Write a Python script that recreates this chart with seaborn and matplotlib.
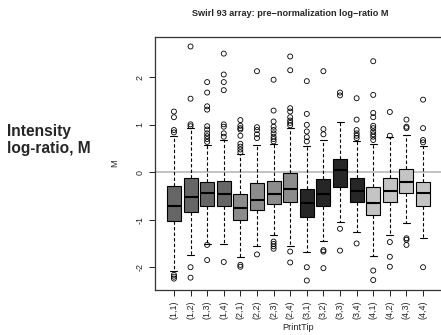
import pandas as pd
import matplotlib.pyplot as plt
import seaborn as sns

# print-tip groups
tips = ["(1,1)", "(1,2)", "(1,3)", "(1,4)", "(2,1)", "(2,2)", "(2,3)", "(2,4)",
        "(3,1)", "(3,2)", "(3,3)", "(3,4)", "(4,1)", "(4,2)", "(4,3)", "(4,4)"]
# box stats
q1 = [-1.02, -0.83, -0.72, -0.72, -1.00, -0.79, -0.67, -0.63,
      -0.95, -0.71, -0.30, -0.62, -0.91, -0.63, -0.44, -0.71]
med = [-0.71, -0.52, -0.44, -0.46, -0.76, -0.58, -0.46, -0.36,
       -0.64, -0.46, 0.04, -0.39, -0.64, -0.40, -0.20, -0.44]
q3 = [-0.29, -0.11, -0.20, -0.18, -0.46, -0.23, -0.18, -0.02,
      -0.35, -0.15, 0.29, -0.11, -0.30, -0.11, 0.07, -0.20]
wlo = [-2.09, -1.75, -1.51, -1.52, -1.79, -1.55, -1.32, -1.55,
       -1.68, -1.44, -1.05, -1.26, -1.76, -1.33, -1.07, -1.38]
whi = [0.77, 0.93, 0.58, 0.68, 0.38, 0.58, 0.59, 0.93,
       0.56, 0.68, 1.05, 0.65, 0.60, 0.74, 0.79, 0.56]
out_lo = [[-2.16, -2.20, -2.24], [-2.00, -2.22], [-1.53, -1.85], [-1.89],
          [-1.95, -1.99], [-1.73], [-1.46, -1.51, -1.56, -1.61], [-1.67, -1.90],
          [-2.00, -2.28], [-1.64, -1.67, -2.02], [-1.19, -1.65], [-1.50],
          [-2.07, -2.27], [-1.47, -1.78, -1.99], [-1.39, -1.42, -1.53], [-2.00]]
out_hi = [[0.84, 0.89, 1.16, 1.28], [0.97, 1.01, 1.55, 2.65],
          [0.64, 0.70, 0.76, 0.82, 0.90, 0.97, 1.32, 1.39, 1.68, 1.90],
          [0.75, 0.82, 0.96, 1.01, 1.73, 1.90, 2.06, 2.50],
          [0.42, 0.48, 0.54, 0.60, 0.77, 0.90, 0.93, 0.98, 1.10],
          [0.72, 0.80, 0.89, 0.95, 2.13],
          [0.65, 0.70, 0.75, 0.82, 0.89, 0.96, 1.07, 1.30, 1.95],
          [0.99, 1.04, 1.09, 1.16, 1.28, 1.35, 2.15, 2.44],
          [0.65, 0.74, 0.86, 1.00, 1.23, 1.92], [0.80, 0.91, 2.13],
          [1.62, 1.68], [0.72, 0.77, 0.82, 0.89, 1.11, 1.56],
          [0.68, 0.75, 0.80, 0.86, 0.93, 0.98, 1.16, 1.25, 1.63, 2.34],
          [0.77, 1.27], [0.93, 0.96, 1.11], [0.63, 0.68, 0.93, 1.53]]
colors = ["#666666"] * 4 + ["#8c8c8c"] * 4 + ["#262626"] * 4 + ["#c4c4c4"] * 4

sns.set_style("ticks")
plt.rcParams["font.family"] = ["Liberation Sans", "DejaVu Sans"]

# five numbers per tip -> box with whiskers at min / max
rows = []
for i, t in enumerate(tips):
    for v in (wlo[i], q1[i], med[i], q3[i], whi[i]):
        rows.append((t, v))
box_df = pd.DataFrame(rows, columns=["PrintTip", "M"])
out_df = pd.DataFrame([(t, v) for i, t in enumerate(tips) for v in out_lo[i] + out_hi[i]],
                      columns=["PrintTip", "M"])

fig = plt.figure(figsize=(4.41, 3.35), dpi=100)
ax = fig.add_axes([155 / 441, 45 / 335, 1 - 155 / 441, 253 / 335])

ax.axhline(0, color="#bdbdbd", lw=1.3, zorder=0)
sns.boxplot(data=box_df, x="PrintTip", y="M", hue="PrintTip", order=tips,
            palette=dict(zip(tips, colors)), saturation=1, whis=(0, 100),
            width=0.84, showfliers=False, linecolor="black", linewidth=0.8,
            legend=False, whiskerprops=dict(linestyle=(0, (3, 2))),
            medianprops=dict(linewidth=1.5), ax=ax)
sns.stripplot(data=out_df, x="PrintTip", y="M", order=tips, jitter=False,
              color="black", facecolor="none", edgecolor="black",
              linewidth=0.6, size=3.6, ax=ax, zorder=5)

ax.set_xlim(-1.14, 16.08)
ax.set_ylim(-2.48, 2.85)
ax.set_yticks([-2, -1, 0, 1, 2])
ax.set_yticklabels(["-2", "-1", "0", "1", "2"], rotation=90, va="center")
ax.set_xticks(range(len(tips)))
ax.set_xticklabels(tips, rotation=90)
ax.tick_params(labelsize=6.4, length=4, width=0.7, colors="#222222")
ax.spines["right"].set_visible(False)
for s in ("left", "bottom", "top"):
    ax.spines[s].set_linewidth(0.9)
    ax.spines[s].set_color("#333333")
ax.set_xlabel("PrintTip", fontsize=6.6, labelpad=3)
ax.set_ylabel("M", fontsize=6.6, labelpad=12)

fig.text(290 / 441, 1 - 14 / 335, "Swirl 93 array: pre\u2212normalization log\u2212ratio M",
         ha="center", va="center", fontsize=6.6, fontweight="bold")
fig.text(7 / 441, 1 - 140 / 335, "Intensity\nlog-ratio, M", ha="left", va="center",
         fontsize=11.2, fontweight="bold", linespacing=1.1)

fig.savefig("out.png", dpi=100)
